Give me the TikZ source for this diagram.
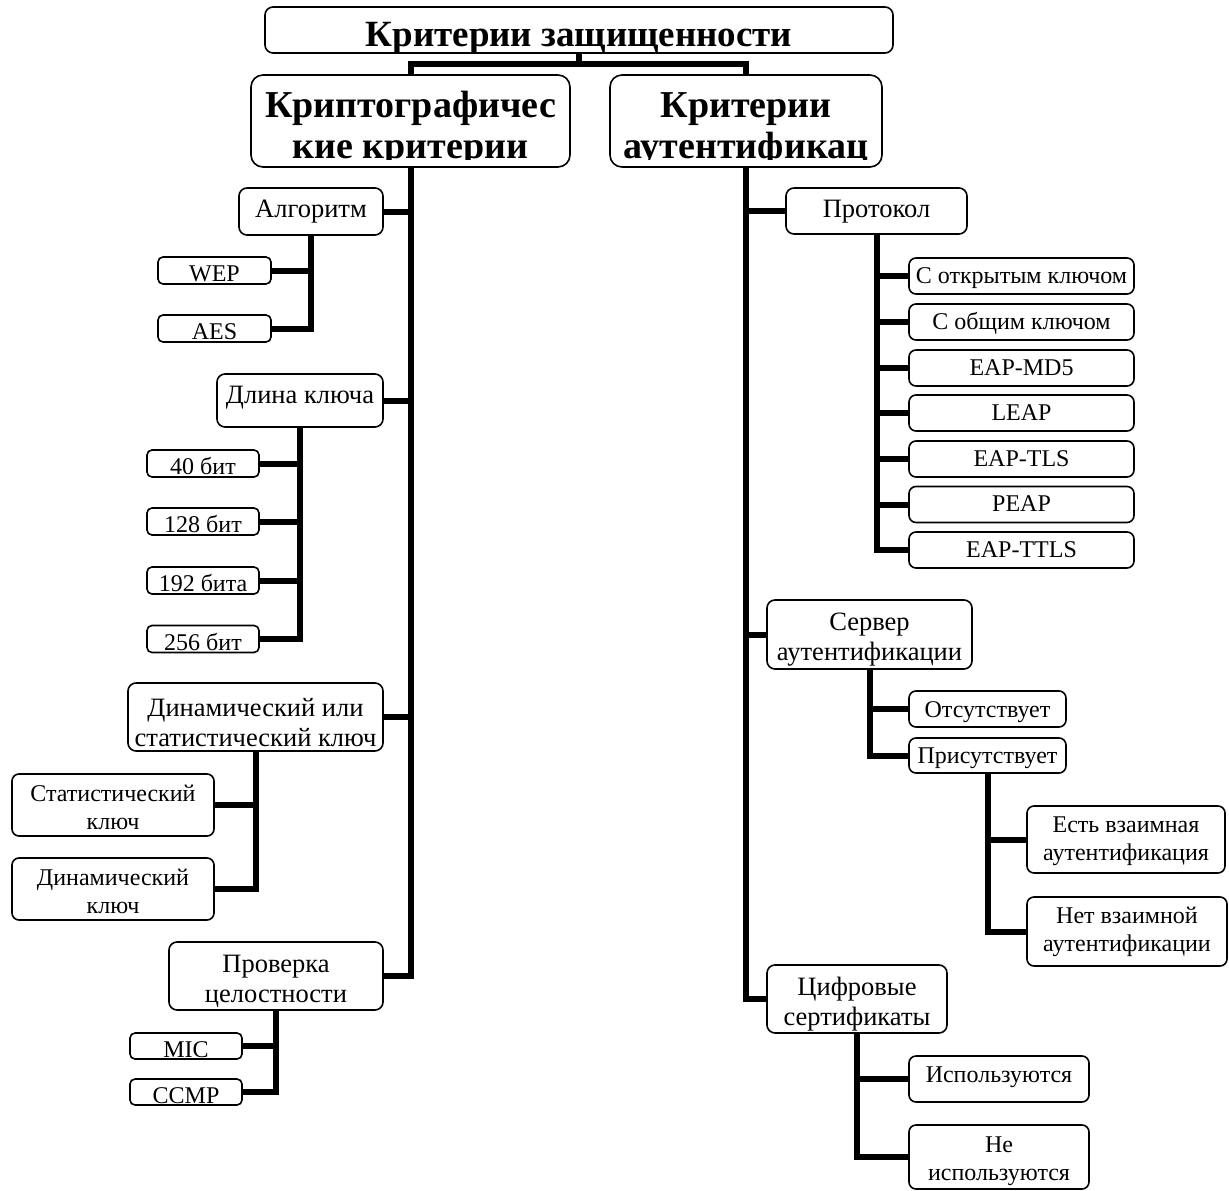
\documentclass[tikz,border=0pt]{standalone}
\usepackage{fontspec}
\setmainfont{Liberation Serif}
\newcommand\bx[6]{\node[#1, minimum width=#4pt, minimum height=#5pt] (#2) at (#3) {#6};}
\newcommand\lwr[1]{\rule{0pt}{#1pt}}
\begin{document}
\begin{tikzpicture}[x=1pt,y=-1pt,
  box/.style={draw, line width=1.6pt, rounded corners=8pt, fill=white, inner sep=0pt, align=center},
  cat/.style={box, font=\fontsize{26.5}{30}\selectfont},
  leaf/.style={box, font=\fontsize{24}{28}\selectfont, rounded corners=7pt},
  tinybox/.style={leaf, rounded corners=5pt, text height=22pt, text depth=0pt},
  conn/.style={line width=6pt, line join=miter},
  ltwo/.style={box, rounded corners=12pt},
  ltwotext/.style={font=\bfseries\fontsize{38}{41}\selectfont, inner sep=0pt, anchor=base},
]
\useasboundingbox (0,0) rectangle (1229,1191);

% title and second level
\bx{box, font=\bfseries\fontsize{37}{40}\selectfont, text height=32pt, text depth=0pt}{title}{579,30}{628}{46}{Критерии защищенности}
\node[ltwo, minimum width=319pt, minimum height=92pt] (crypt) at (410.5,121) {};
\node[ltwo, minimum width=272pt, minimum height=92pt] (auth) at (746,121) {};
\begin{scope}
  \clip (crypt.north west) rectangle (crypt.east |- 0,159);
  \node[ltwotext] (crypta) at (410.5,117) {Криптографичес};
  \node[ltwotext] (cryptb) at (410.5,158) {кие критерии};
\end{scope}
\begin{scope}
  \clip (auth.north west) rectangle (auth.east |- 0,159);
  \node[ltwotext] (autha) at (746,117) {Критерии};
  \node[ltwotext] (authb) at (746,158) {аутентификац};
\end{scope}

% left branch
\bx{cat, text height=13pt, text depth=2pt}{alg}{311,211.5}{144}{47}{Алгоритм}
\bx{tinybox}{wep}{214.5,270.5}{113}{27}{WEP}
\bx{tinybox}{aes}{214.5,328.5}{113}{27}{AES}
\bx{cat, text height=8pt, text depth=2pt}{dlina}{300,400.5}{166}{53}{Длина ключа}
\bx{tinybox}{bA}{203,463.5}{112}{27}{40 бит}
\bx{tinybox}{bB}{203,521.5}{112}{27}{128 бит}
\bx{tinybox}{bC}{203,580.5}{112}{27}{192 бита}
\bx{tinybox}{bD}{203,639}{112}{27}{256 бит}
\bx{cat}{dyn}{255.5,717}{255}{68}{\lwr{30}Динамический или\\статистический ключ}
\bx{leaf}{stat}{113,805}{202}{62}{\lwr{21.5}Статистический\\ключ}
\bx{leaf}{dkey}{113,889}{202}{62}{\lwr{21.5}Динамический\\ключ}
\bx{cat}{prov}{276,976}{214}{68}{\lwr{29}Проверка\\целостности}
\bx{tinybox}{mic}{186,1046}{112}{26}{MIC}
\bx{tinybox}{ccmp}{186,1092}{112}{26}{CCMP}

% right branch
\bx{cat, text height=14pt, text depth=2pt}{prot}{876.5,211}{181}{46}{Протокол}
\bx{leaf, text height=16pt, text depth=2pt}{pA}{1021.5,276}{225}{36}{С открытым ключом}
\bx{leaf, text height=16pt, text depth=2pt}{pB}{1021.5,322}{225}{36}{С общим ключом}
\bx{leaf, text height=16pt, text depth=2pt}{pC}{1021.5,368}{225}{36}{EAP-MD5}
\bx{leaf, text height=16pt, text depth=2pt}{pD}{1021.5,413}{225}{36}{LEAP}
\bx{leaf, text height=16pt, text depth=2pt}{pE}{1021.5,459}{225}{36}{EAP-TLS}
\bx{leaf, text height=16pt, text depth=2pt}{pF}{1021.5,504.5}{225}{36}{PEAP}
\bx{leaf, text height=16pt, text depth=2pt}{pG}{1021.5,550}{225}{36}{EAP-TTLS}
\bx{cat}{serv}{869.5,634.5}{205}{69}{\lwr{28}Сервер\\аутентификации}
\bx{leaf, text height=18pt, text depth=2pt}{ots}{987.5,709}{157}{36}{Отсутствует}
\bx{leaf, text height=17pt, text depth=2pt}{pris}{987.5,755.5}{157}{35}{Присутствует}
\bx{leaf}{est}{1126,839.5}{198}{67}{\lwr{20}Есть взаимная\\аутентификация}
\bx{leaf}{net}{1127,931.5}{200}{69}{Нет взаимной\\аутентификации}
\bx{cat}{cifr}{857,999}{180}{68}{\lwr{29.5}Цифровые\\сертификаты}
\bx{leaf, text height=8pt, text depth=2pt}{isp}{999,1079}{180}{46}{Используются}
\bx{leaf}{neisp}{999,1157}{180}{64}{\lwr{24}Не\\используются}

% connectors
\path (title.south) ++(0,10) coordinate (tj);
\draw[conn] (title.south) -- (tj);
\draw[conn] (crypt.north) |- (tj) -| (auth.north);

\foreach \c in {alg,dlina,dyn,prov} \draw[conn] (crypt.south) |- (\c.east);
\foreach \c in {wep,aes} \draw[conn] (alg.south) |- (\c.east);
\foreach \c in {bA,bB,bC,bD} \draw[conn] (dlina.south) |- (\c.east);
\foreach \c in {stat,dkey} \draw[conn] (dyn.south) |- (\c.east);
\foreach \c in {mic,ccmp} \draw[conn] (prov.south) |- (\c.east);

\foreach \c in {prot,serv,cifr} \draw[conn] (auth.south) |- (\c.west);
\foreach \c in {pA,pB,pC,pD,pE,pF,pG} \draw[conn] (prot.south) |- (\c.west);
\foreach \c in {ots,pris} \draw[conn] (serv.south) |- (\c.west);
\foreach \c in {est,net} \draw[conn] (pris.south) |- (\c.west);
\foreach \c in {isp,neisp} \draw[conn] (cifr.south) |- (\c.west);
\end{tikzpicture}
\end{document}
